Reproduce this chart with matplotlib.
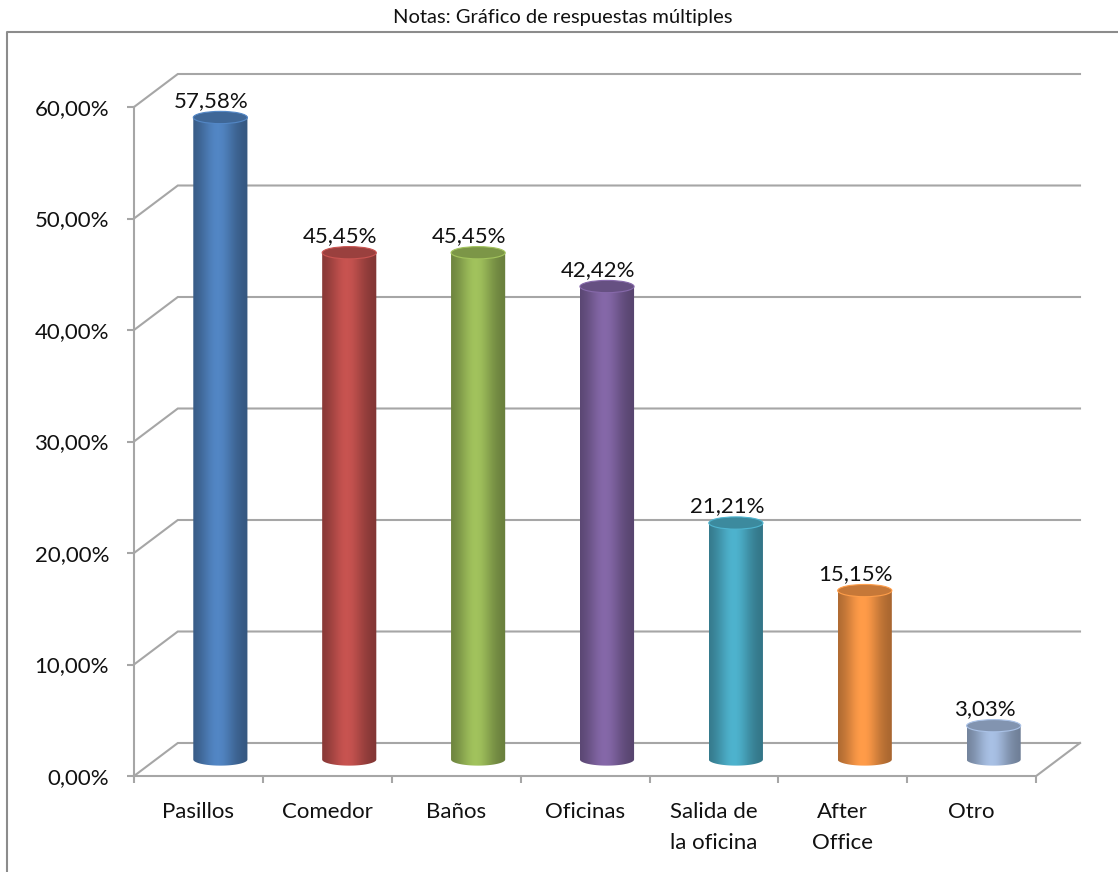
import numpy as np
import matplotlib
matplotlib.use('Agg')
import matplotlib.pyplot as plt
import matplotlib.colors as mcolors
from matplotlib.path import Path
from matplotlib.patches import PathPatch, Ellipse
from matplotlib.lines import Line2D

plt.rcParams['font.family'] = ['Lato', 'DejaVu Sans']

titulo = 'Notas: Gráfico de respuestas múltiples'
categorias = ['Pasillos', 'Comedor', 'Baños', 'Oficinas',
              'Salida de\nla oficina', 'After\nOffice', 'Otro']
porcentajes = [57.58, 45.45, 45.45, 42.42, 21.21, 15.15, 3.03]
colores = ['#4F81BD', '#C0504D', '#9BBB59', '#8064A2',
           '#4BACC6', '#F79646', '#A2B9DC']
yticks = [0, 10, 20, 30, 40, 50, 60]

# fake 3D depth: offset of the back wall in data units
DX, DY = 0.34, 2.96
ANCHO = 0.42       # cylinder width
ELIPSE = 1.1       # height of the cylinder end ellipses
GRIS = '#a6a6a6'
TXT = '#111111'


def fmt(v):
    return f'{v:.2f}'.replace('.', ',') + '%'


def sombreado(color, n=256):
    rgb = np.array(mcolors.to_rgb(color))
    t = np.linspace(0, 1, n)
    f = 0.66 + 0.38 * np.exp(-((t - 0.45) / 0.32) ** 2)
    img = np.clip(rgb[None, :] * f[:, None], 0, 1)
    return img[None, :, :]


W, H = 1118, 872
fig = plt.figure(figsize=(W / 100, H / 100), dpi=100)
ax = fig.add_axes([134 / W, (H - 776) / H, (1080 - 134) / W, (776 - 74) / H])
for s in ax.spines.values():
    s.set_visible(False)

# back wall gridlines with their diagonals to the front axis
for y in yticks:
    ax.plot([0, DX, 7 + DX], [y, y + DY, y + DY], color=GRIS, lw=1.5,
            clip_on=False, zorder=1, solid_joinstyle='miter')
ax.plot([0, 0], [0, 60], color=GRIS, lw=1.5, clip_on=False, zorder=1)
ax.plot([0, 7, 7 + DX], [0, 0, DY], color=GRIS, lw=1.5, clip_on=False, zorder=1)

# cylinders
for i, (v, c) in enumerate(zip(porcentajes, colores)):
    cx = i + 0.5 + DX / 2
    base = DY / 2
    top = v + DY / 2
    x0, x1 = cx - ANCHO / 2, cx + ANCHO / 2
    th = np.linspace(np.pi, 2 * np.pi, 60)
    arco = np.column_stack([cx + ANCHO / 2 * np.cos(th), base + ELIPSE / 2 * np.sin(th)])
    verts = np.vstack([[x0, top], arco, [x1, top], [x0, top]])
    codes = [Path.MOVETO] + [Path.LINETO] * (len(verts) - 2) + [Path.CLOSEPOLY]
    cuerpo = PathPatch(Path(verts, codes), facecolor='none', edgecolor='none')
    ax.add_patch(cuerpo)
    im = ax.imshow(sombreado(c), extent=[x0, x1, base - ELIPSE / 2, top],
                   aspect='auto', interpolation='bilinear', zorder=3)
    im.set_clip_path(cuerpo)
    rgb = np.array(mcolors.to_rgb(c))
    tapa = Ellipse((cx, top), ANCHO, ELIPSE, facecolor=rgb * 0.8,
                   edgecolor=np.clip(rgb * 1.05, 0, 1), lw=0.8, zorder=4)
    ax.add_patch(tapa)
    ax.text(i + 0.6, top + 0.95, fmt(v), ha='center', va='baseline',
            fontsize=16, color=TXT, zorder=5)

ax.set_xlim(0, 7 + DX)
ax.set_ylim(0, 60 + DY)

ax.set_yticks(yticks, [fmt(y) for y in yticks])
ax.tick_params(axis='y', length=5, width=1.5, color=GRIS, pad=13,
               labelsize=16, labelcolor=TXT)
ax.set_xticks(np.arange(8), [''] * 8)
ax.tick_params(axis='x', which='major', length=5, width=1.5, color=GRIS)
ax.set_xticks(np.arange(7) + 0.5, categorias, minor=True)
ax.tick_params(axis='x', which='minor', length=0, pad=19,
               labelsize=16, labelcolor=TXT)
for lab in ax.get_xticklabels(minor=True):
    lab.set_linespacing(1.65)

# chart area border
fig.add_artist(Line2D([7 / W, 7 / W, 1], [0, 1 - 32 / H, 1 - 32 / H],
                      transform=fig.transFigure, color='#8c8c8c', lw=1.5))
fig.text(563 / W, 1 - 17 / H, titulo, ha='center', va='center',
         fontsize=14.5, color=TXT)

fig.savefig('out.png', dpi=100)
